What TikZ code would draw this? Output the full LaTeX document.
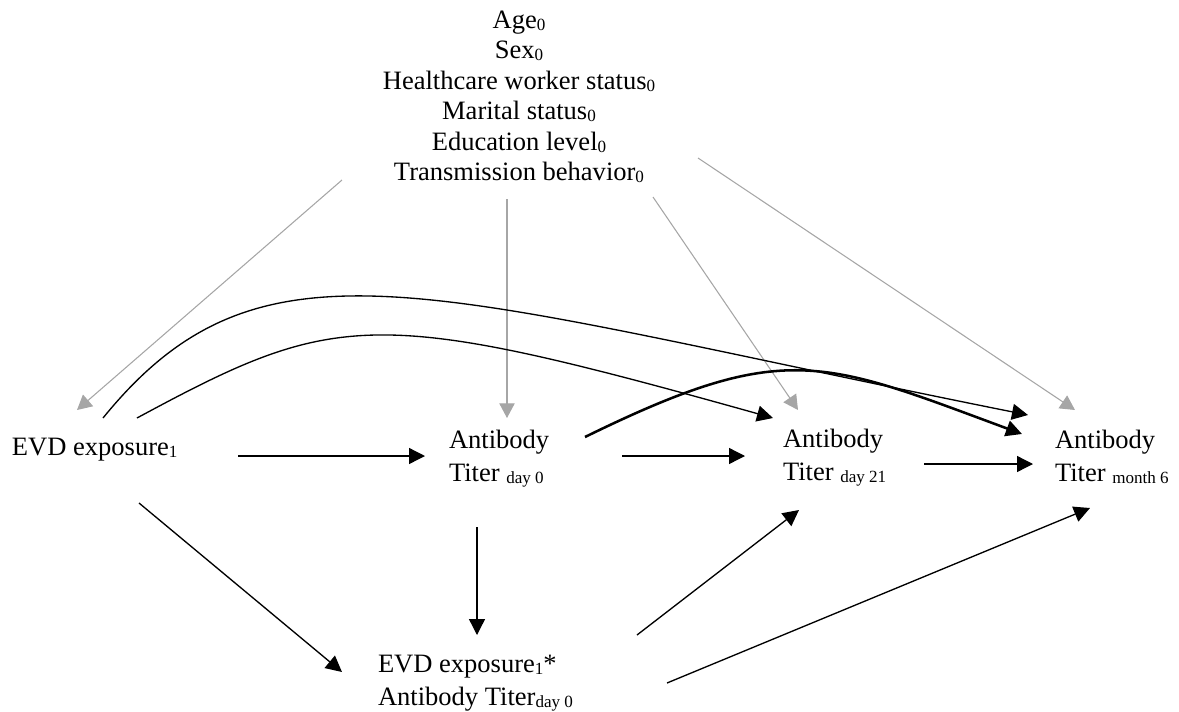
\documentclass[tikz,border=0pt]{standalone}
\usepackage{fontspec}
\setmainfont{Liberation Serif}
\usetikzlibrary{arrows.meta}
\newcommand\mysub[1]{\raisebox{-1.5pt}{\fontsize{12.8}{12.8}\selectfont #1}}
\newcommand\listfont{\fontsize{19.9}{22.9}\selectfont}
\newcommand\nodefont{\fontsize{19.9}{25}\selectfont}
\colorlet{confgray}{black!35}
\tikzset{
  txt/.style={inner sep=0pt, outer sep=0pt, font=\nodefont},
  blk/.style={draw=black, line width=1pt, -{Triangle[length=12pt,width=12pt]}},
  thk/.style={draw=black, line width=1.9pt, -{Triangle[length=12pt,width=12pt]}},
  gry/.style={draw=confgray, line width=0.8pt, -{Triangle[length=11pt,width=11.5pt]}}
}
\begin{document}
\begin{tikzpicture}[x=0.75pt,y=-0.75pt]
\useasboundingbox (0,0) rectangle (1179,711);
% nodes
\node[txt, font=\listfont, anchor=base] (conf) at (519,28)
  {\begin{tabular}[t]{@{}c@{}}Age\mysub{0}\\Sex\mysub{0}\\Healthcare worker status\mysub{0}\\Marital status\mysub{0}\\Education level\mysub{0}\\Transmission behavior\mysub{0}\end{tabular}};
\node[txt, anchor=base west] (evd) at (12,455) {EVD exposure\mysub{1}};
\node[txt, anchor=base west] (ab0) at (449,448)
  {\begin{tabular}[t]{@{}l@{}}Antibody\\Titer \mysub{day 0}\end{tabular}};
\node[txt, anchor=base west] (ab21) at (783,447)
  {\begin{tabular}[t]{@{}l@{}}Antibody\\Titer \mysub{day 21}\end{tabular}};
\node[txt, anchor=base west] (ab6) at (1055,448)
  {\begin{tabular}[t]{@{}l@{}}Antibody\\Titer \mysub{month 6}\end{tabular}};
\node[txt, anchor=base west] (inter) at (378,672)
  {\begin{tabular}[t]{@{}l@{}}EVD exposure\mysub{1}*\\Antibody Titer\mysub{day 0}\end{tabular}};
% ports
\coordinate (conf-a) at (342,180);
\coordinate (conf-b) at (507,199);
\coordinate (conf-c) at (653,197);
\coordinate (conf-d) at (698,158);
\coordinate (evd-top) at (77,410);
\coordinate (evd-c1) at (103,418);
\coordinate (evd-c2) at (137,418);
\coordinate (evd-r) at (238,456);
\coordinate (evd-b) at (139,503);
\coordinate (ab0-l) at (425,456);
\coordinate (ab0-t) at (507,418);
\coordinate (ab0-r) at (622,456);
\coordinate (ab0-ru) at (585,437);
\coordinate (ab0-b) at (477,527);
\coordinate (ab21-l) at (745,456);
\coordinate (ab21-tl) at (773,418);
\coordinate (ab21-t) at (798,410);
\coordinate (ab21-r) at (924,464);
\coordinate (ab21-b) at (799,510);
\coordinate (ab6-l) at (1033,464);
\coordinate (ab6-tl1) at (1028,415);
\coordinate (ab6-tl2) at (1022,434);
\coordinate (ab6-t) at (1075,410);
\coordinate (ab6-b) at (1090,508);
\coordinate (inter-l) at (342,672);
\coordinate (inter-t) at (477,635);
\coordinate (inter-r1) at (637,635);
\coordinate (inter-r2) at (667,683);
% confounder arrows
\draw[gry] (conf-a) -- (evd-top);
\draw[gry] (conf-b) -- (ab0-t);
\draw[gry] (conf-c) -- (ab21-t);
\draw[gry] (conf-d) -- (ab6-t);
% straight arrows
\draw[blk] (evd-r) -- (ab0-l);
\draw[blk] (ab0-r) -- (ab21-l);
\draw[blk] (ab21-r) -- (ab6-l);
\draw[blk] (ab0-b) -- (inter-t);
\draw[blk] (evd-b) -- (inter-l);
\draw[blk] (inter-r1) -- (ab21-b);
\draw[blk] (inter-r2) -- (ab6-b);
% curved arrows
\draw[blk] (evd-c1) .. controls (263,221) and (428,295) .. (ab6-tl1);
\draw[blk] (evd-c2) .. controls (337,310) and (373,306) .. (ab21-tl);
\draw[thk] (ab0-ru) .. controls (785,339) and (822,360) .. (ab6-tl2);
\end{tikzpicture}
\end{document}
